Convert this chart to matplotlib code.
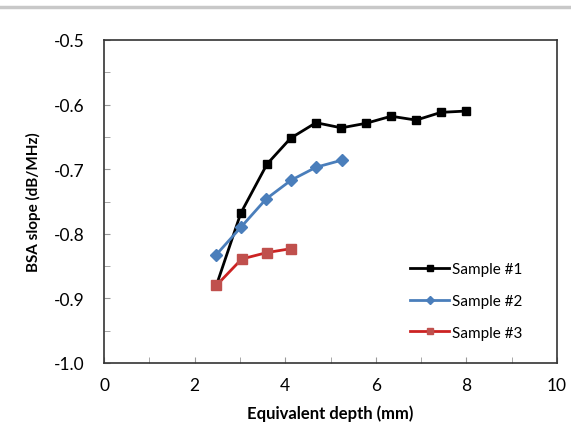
import matplotlib
matplotlib.use('Agg')
import matplotlib.pyplot as plt
from matplotlib.ticker import MultipleLocator

plt.rcParams['font.family'] = ['Lato', 'DejaVu Sans']

# data
x1 = [2.48, 3.02, 3.6, 4.12, 4.68, 5.24, 5.78, 6.34, 6.89, 7.44, 7.99]
y1 = [-0.880, -0.768, -0.692, -0.652, -0.628, -0.636, -0.629, -0.618, -0.624, -0.612, -0.610]
x2 = [2.47, 3.02, 3.58, 4.13, 4.68, 5.25]
y2 = [-0.833, -0.790, -0.746, -0.717, -0.697, -0.686]
x3 = [2.48, 3.04, 3.6, 4.13]
y3 = [-0.880, -0.839, -0.829, -0.823]
labels = ['Sample #1', 'Sample #2', 'Sample #3']

fig = plt.figure(figsize=(5.71, 4.35), dpi=100)
ax = fig.add_axes([104 / 571, 1 - 364 / 435, 453 / 571, 323 / 435])

ax.plot(x1, y1, color='black', marker='s', markersize=6, linewidth=2, label=labels[0])
ax.plot(x2, y2, color='#4a7ebb', marker='D', markersize=6, linewidth=2, label=labels[1])
ax.plot(x3, y3, color='#cc2222', marker='s', markersize=7, linewidth=2,
        markerfacecolor='#c0504d', markeredgecolor='#c0504d', label=labels[2])

ax.set_xlim(0, 10)
ax.set_ylim(-1.0, -0.5)
ax.xaxis.set_major_locator(MultipleLocator(2))
ax.xaxis.set_minor_locator(MultipleLocator(1))
ax.yaxis.set_major_locator(MultipleLocator(0.1))
ax.yaxis.set_minor_locator(MultipleLocator(0.05))
ax.yaxis.set_major_formatter(plt.FuncFormatter(lambda v, p: '%.1f' % v))
ax.tick_params(which='both', direction='in', labelsize=12.5, color='#999999')
ax.tick_params(axis='y', which='major', length=4, pad=14)
ax.tick_params(axis='x', which='major', length=4, pad=10)
ax.tick_params(which='minor', length=4)
for s in ax.spines.values():
    s.set_color('#333333')
    s.set_linewidth(1.2)

ax.set_xlabel('Equivalent depth (mm)', fontsize=12, fontweight='bold', labelpad=8)
ax.set_ylabel('BSA slope (dB/MHz)', fontsize=11, fontweight='bold', labelpad=9)

ax.legend(loc='lower right', bbox_to_anchor=(0.955, 0.03), frameon=False, fontsize=11,
          handlelength=2.6, labelspacing=1.15, handletextpad=0.2, markerscale=0.7)

# gray separator line at top of screenshot
fig.add_artist(plt.Line2D([0, 1], [1 - 8 / 435, 1 - 8 / 435], color='#c8c8c8', linewidth=2.5))

plt.savefig('out.png', dpi=100)
